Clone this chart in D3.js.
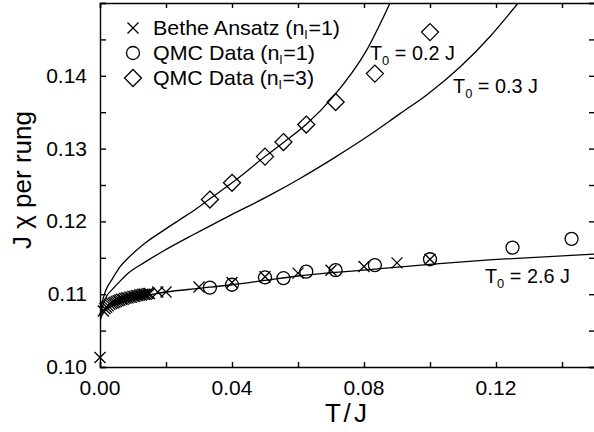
<!DOCTYPE html>
<html>
<head>
<meta charset="utf-8">
<script src="https://cdn.jsdelivr.net/npm/d3@7"></script>
<style>
  body { margin: 0; background: #fff; }
  svg { display: block; font-family: "Liberation Sans", Arial, sans-serif; }
</style>
</head>
<body>
<div id="chart"></div>
<script>
// data
const betheT = [0, 0.001, 0.0015, 0.002, 0.0025, 0.003, 0.0035, 0.004, 0.0045, 0.005, 0.0055, 0.006, 0.0065, 0.007, 0.0075,
  0.008, 0.0085, 0.009, 0.0095, 0.01, 0.0105, 0.011, 0.0115, 0.012, 0.0125, 0.013, 0.0135, 0.014, 0.0145, 0.015,
  0.0175, 0.02, 0.03, 0.04, 0.05, 0.06, 0.07, 0.08, 0.09, 0.1];
const betheChi = [0.1013, 0.1077, 0.1080, 0.1082, 0.1084, 0.1086, 0.1087, 0.1088, 0.1089, 0.1090, 0.1091, 0.1092, 0.1093, 0.1093, 0.1094,
  0.1095, 0.1095, 0.1096, 0.1096, 0.1097, 0.1097, 0.1098, 0.1098, 0.1099, 0.1099, 0.1100, 0.1100, 0.1100, 0.1101, 0.1101,
  0.1103, 0.1103, 0.1110, 0.1116, 0.1124, 0.1129, 0.1133, 0.1138, 0.1143, 0.1148];

const qmc1T = [0.0333, 0.04, 0.05, 0.0556, 0.0625, 0.0714, 0.0833, 0.1, 0.125, 0.1429];
const qmc1Chi = [0.1109, 0.1113, 0.1123, 0.1122, 0.1131, 0.1133, 0.1140, 0.1148, 0.1164, 0.1176];

const qmc3T = [0.0333, 0.04, 0.05, 0.0556, 0.0625, 0.0714, 0.0833, 0.1];
const qmc3Chi = [0.1230, 0.1253, 0.1289, 0.1309, 0.1333, 0.1364, 0.1403, 0.1460];

// fitted curves, labelled by T0
const fit02T = [0, 0.0005, 0.0012, 0.0021, 0.0036, 0.0061, 0.0086, 0.0136, 0.0187, 0.0237, 0.0288, 0.033, 0.04, 0.05, 0.0558, 0.0627, 0.0706, 0.0809, 0.0879];
const fit02Chi = [0.1065, 0.1085, 0.1098, 0.1109, 0.1120, 0.1138, 0.1150, 0.1170, 0.1186, 0.1201, 0.1216, 0.1230, 0.1253, 0.1289, 0.1309, 0.1334, 0.1371, 0.1436, 0.1500];

const fit03T = [0, 0.0005, 0.0012, 0.0021, 0.0036, 0.0061, 0.0086, 0.0136, 0.0187, 0.0288, 0.0389, 0.0515, 0.0606, 0.0712, 0.0818, 0.0909, 0.0991, 0.1091, 0.1182, 0.1267];
const fit03Chi = [0.1065, 0.1078, 0.1089, 0.1098, 0.1106, 0.1118, 0.1129, 0.1144, 0.1158, 0.1183, 0.1207, 0.1236, 0.1259, 0.1288, 0.1319, 0.1348, 0.1374, 0.1412, 0.1454, 0.1500];

const fit26T = [0, 0.0005, 0.001, 0.002, 0.004, 0.007, 0.01, 0.015, 0.02, 0.03, 0.04, 0.05, 0.06, 0.08, 0.1, 0.125, 0.15];
const fit26Chi = [0.1063, 0.1070, 0.1074, 0.1079, 0.1085, 0.1091, 0.1095, 0.1099, 0.1103, 0.1108, 0.1113, 0.1119, 0.1125, 0.1133, 0.1141, 0.1149, 0.1155];

const xTicks = [0, 0.02, 0.04, 0.06, 0.08, 0.10, 0.12, 0.14];
const xLabels = [0, 0.04, 0.08, 0.12];
const yTicks = [0.10, 0.105, 0.11, 0.115, 0.12, 0.125, 0.13, 0.135, 0.14, 0.145, 0.15];
const yLabels = [0.10, 0.11, 0.12, 0.13, 0.14];

const W = 594, H = 432;
const x = d3.scaleLinear().domain([0, 0.15]).range([100, 595]);
const y = d3.scaleLinear().domain([0.10, 0.15]).range([367, 3]);

const svg = d3.select("#chart").append("svg")
  .attr("width", W).attr("height", H);

svg.append("defs").append("clipPath").attr("id", "clip")
  .append("rect").attr("x", 100).attr("y", 3).attr("width", 495).attr("height", 364);

// stretch a text horizontally so it spans the width seen in the figure
function fitWidth(t, x0, target) {
  const w = t.node().getComputedTextLength();
  if (w > 0) t.attr("transform", `translate(${x0},0) scale(${target / w},1) translate(${-x0},0)`);
}

// axes, ticks pointing inward
const fmt = d => d.toFixed(2);
svg.append("g").attr("transform", `translate(0,${y(0.10)})`)
  .call(d3.axisBottom(x).tickValues(xTicks).tickSize(-5).tickFormat(""));
svg.append("g").attr("transform", `translate(0,${y(0.15)})`)
  .call(d3.axisTop(x).tickValues(xTicks).tickSize(-5).tickFormat(""));
svg.append("g").attr("transform", `translate(${x(0)},0)`)
  .call(d3.axisLeft(y).tickValues(yTicks).tickSize(-6).tickFormat(""));
svg.append("g").attr("transform", `translate(${x(0.15)},0)`)
  .call(d3.axisRight(y).tickValues(yTicks).tickSize(-6).tickFormat(""));
svg.selectAll(".domain, .tick line").attr("stroke", "#000").attr("stroke-width", 1.4);

svg.selectAll(".xlab").data(xLabels).enter().append("text")
  .attr("x", d => x(d)).attr("y", 395)
  .attr("text-anchor", "middle").style("font-size", "21px").text(fmt);
svg.selectAll(".ylab").data(yLabels).enter().append("text")
  .attr("x", 87).attr("y", d => y(d) + 7)
  .attr("text-anchor", "end").style("font-size", "21px").text(fmt);

svg.append("text").attr("x", 325).attr("y", 422)
  .attr("textLength", 42).attr("lengthAdjust", "spacing")
  .style("font-size", "26px").text("T / J");
svg.append("text").attr("transform", "translate(31,249) rotate(-90)")
  .attr("textLength", 138).attr("lengthAdjust", "spacing")
  .style("font-size", "26px").text("J χ per rung");

// curves
const line = d3.line().x(d => x(d[0])).y(d => y(d[1])).curve(d3.curveMonotoneX);
const plot = svg.append("g").attr("clip-path", "url(#clip)");
[[fit02T, fit02Chi], [fit03T, fit03Chi], [fit26T, fit26Chi]].forEach(([t, c]) => {
  plot.append("path").datum(t.map((v, i) => [v, c[i]]))
    .attr("d", line).attr("fill", "none").attr("stroke", "#000").attr("stroke-width", 1.3);
});

// markers
const cross = (g, cx, cy, s) => g.append("path")
  .attr("d", `M${cx - s},${cy - s}L${cx + s},${cy + s}M${cx - s},${cy + s}L${cx + s},${cy - s}`)
  .attr("stroke", "#000").attr("stroke-width", 1.3).attr("fill", "none");
const circ = (g, cx, cy) => g.append("circle").attr("cx", cx).attr("cy", cy).attr("r", 6.5)
  .attr("fill", "none").attr("stroke", "#000").attr("stroke-width", 1.3);
const diam = (g, cx, cy) => g.append("path")
  .attr("d", `M${cx},${cy - 8.5}L${cx + 8.5},${cy}L${cx},${cy + 8.5}L${cx - 8.5},${cy}Z`)
  .attr("fill", "none").attr("stroke", "#000").attr("stroke-width", 1.3);

betheT.forEach((t, i) => cross(svg, x(t), y(betheChi[i]), 5.5));
qmc1T.forEach((t, i) => circ(svg, x(t), y(qmc1Chi[i])));
qmc3T.forEach((t, i) => diam(svg, x(t), y(qmc3Chi[i])));

// legend
const leg = [
  {m: "x", text: "Bethe Ansatz (n", sub: "l", rest: "=1)", w: 186},
  {m: "o", text: "QMC Data (n", sub: "l", rest: "=1)", w: 161},
  {m: "d", text: "QMC Data (n", sub: "l", rest: "=3)", w: 160}
];
leg.forEach((d, i) => {
  const cy = 28 + i * 25;
  if (d.m === "x") cross(svg, 133, cy, 5.5);
  else if (d.m === "o") circ(svg, 133, cy);
  else diam(svg, 133, cy);
  const t = svg.append("text").attr("x", 153).attr("y", cy + 7).style("font-size", "20px");
  t.append("tspan").text(d.text);
  t.append("tspan").attr("dy", 4).style("font-size", "12px").text(d.sub);
  t.append("tspan").attr("dy", -4).attr("dx", 1).text(d.rest);
  fitWidth(t, 153, d.w);
});

// T0 labels
const t0 = [
  {x: 370, y: 60, v: "= 0.2 J"},
  {x: 453, y: 93, v: "= 0.3 J"},
  {x: 485, y: 283, v: "= 2.6 J"}
];
t0.forEach(d => {
  const t = svg.append("text").attr("x", d.x).attr("y", d.y).style("font-size", "20px");
  t.append("tspan").text("T");
  t.append("tspan").attr("dy", 5).style("font-size", "13px").text("0");
  t.append("tspan").attr("dy", -5).text(" " + d.v);
  fitWidth(t, d.x, 85);
});
</script>
</body>
</html>
